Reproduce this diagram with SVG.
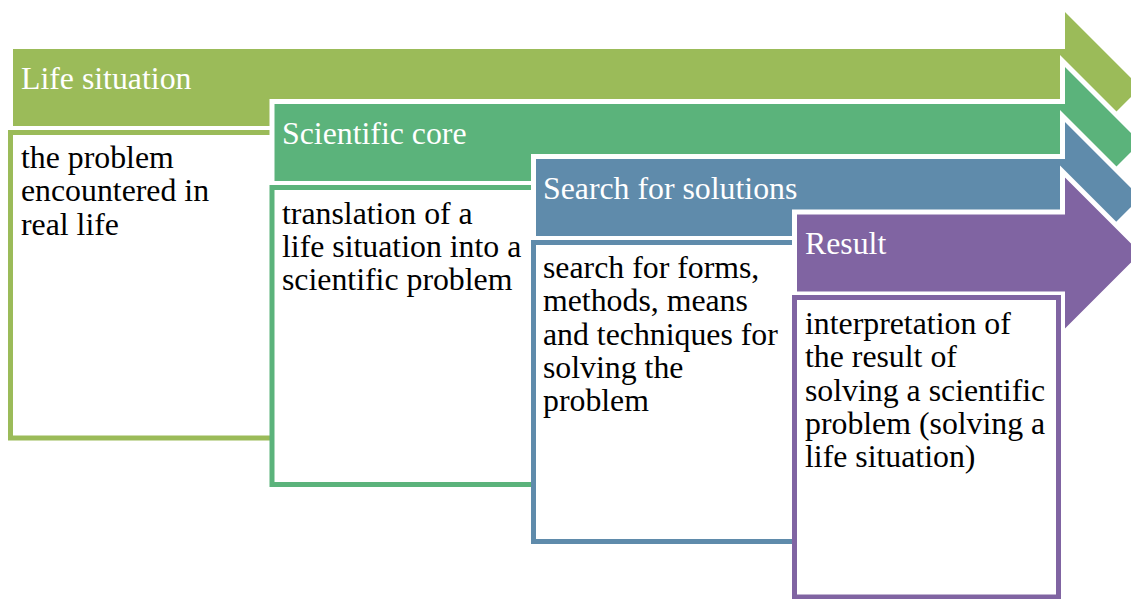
<svg xmlns="http://www.w3.org/2000/svg" width="1131" height="599" viewBox="0 0 1131 599">
  <defs>
    <style>
      .arrow { stroke: #ffffff; stroke-width: 5; stroke-linejoin: miter; }
      .box { fill: #ffffff; stroke-width: 5; }
      .title { font-size: 31.8px; fill: #ffffff; }
      .body { font-size: 31.8px; fill: #000000; }
      .c1 { fill: #9bbb59; } .s1 { stroke: #9bbb59; }
      .c2 { fill: #5bb37b; } .s2 { stroke: #5bb37b; }
      .c3 { fill: #5f8bab; } .s3 { stroke: #5f8bab; }
      .c4 { fill: #8064a2; } .s4 { stroke: #8064a2; }
    </style>
  </defs>

  <g font-family="Liberation Serif, DejaVu Serif, serif">
  <!-- Stage 1: Life situation -->
  <g id="stage-life-situation">
    <path class="arrow c1" d="M10.5,46.5 H1062.5 V6 L1144,87.5 L1062.5,169 V128.5 H10.5 Z"/>
    <g id="box-life-situation">
      <rect class="box s1" x="10.5" y="132.5" width="264" height="305.5"/>
      <text class="body">
        <tspan x="21" y="168">the problem</tspan>
        <tspan x="21" y="201.3">encountered in</tspan>
        <tspan x="21" y="234.6">real life</tspan>
      </text>
    </g>
    <text class="title" x="21" y="89">Life situation</text>
  </g>

  <!-- Stage 2: Scientific core -->
  <g id="stage-scientific-core">
    <path class="arrow c2" d="M272,101.5 H1062.5 V61 L1144,142.5 L1062.5,224 V183.5 H272 Z"/>
    <g id="box-scientific-core">
      <rect class="box s2" x="272" y="187.5" width="264" height="297"/>
      <text class="body">
        <tspan x="282" y="223.5">translation of a</tspan>
        <tspan x="282" y="256.8">life situation into a</tspan>
        <tspan x="282" y="290.1">scientific problem</tspan>
      </text>
    </g>
    <text class="title" x="282" y="144">Scientific core</text>
  </g>

  <!-- Stage 3: Search for solutions -->
  <g id="stage-search-for-solutions">
    <path class="arrow c3" d="M533.5,156.5 H1062.5 V116 L1144,197.5 L1062.5,279 V238.5 H533.5 Z"/>
    <g id="box-search-for-solutions">
      <rect class="box s3" x="533.5" y="242.5" width="264" height="299"/>
      <text class="body">
        <tspan x="543" y="278">search for forms,</tspan>
        <tspan x="543" y="311.3">methods, means</tspan>
        <tspan x="543" y="344.6">and techniques for</tspan>
        <tspan x="543" y="377.9">solving the</tspan>
        <tspan x="543" y="411.2">problem</tspan>
      </text>
    </g>
    <text class="title" x="543" y="199">Search for solutions</text>
  </g>

  <!-- Stage 4: Result -->
  <g id="stage-result">
    <path class="arrow c4" d="M794.5,212 H1062.5 V171.5 L1144,253 L1062.5,334.5 V294 H794.5 Z"/>
    <g id="box-result">
      <rect class="box s4" x="794.5" y="297.5" width="264" height="299.5"/>
      <text class="body">
        <tspan x="805" y="334">interpretation of</tspan>
        <tspan x="805" y="367.3">the result of</tspan>
        <tspan x="805" y="400.6">solving a scientific</tspan>
        <tspan x="805" y="433.9">problem (solving a</tspan>
        <tspan x="805" y="467.2">life situation)</tspan>
      </text>
    </g>
    <text class="title" x="805" y="254">Result</text>
  </g>
  </g>
</svg>
